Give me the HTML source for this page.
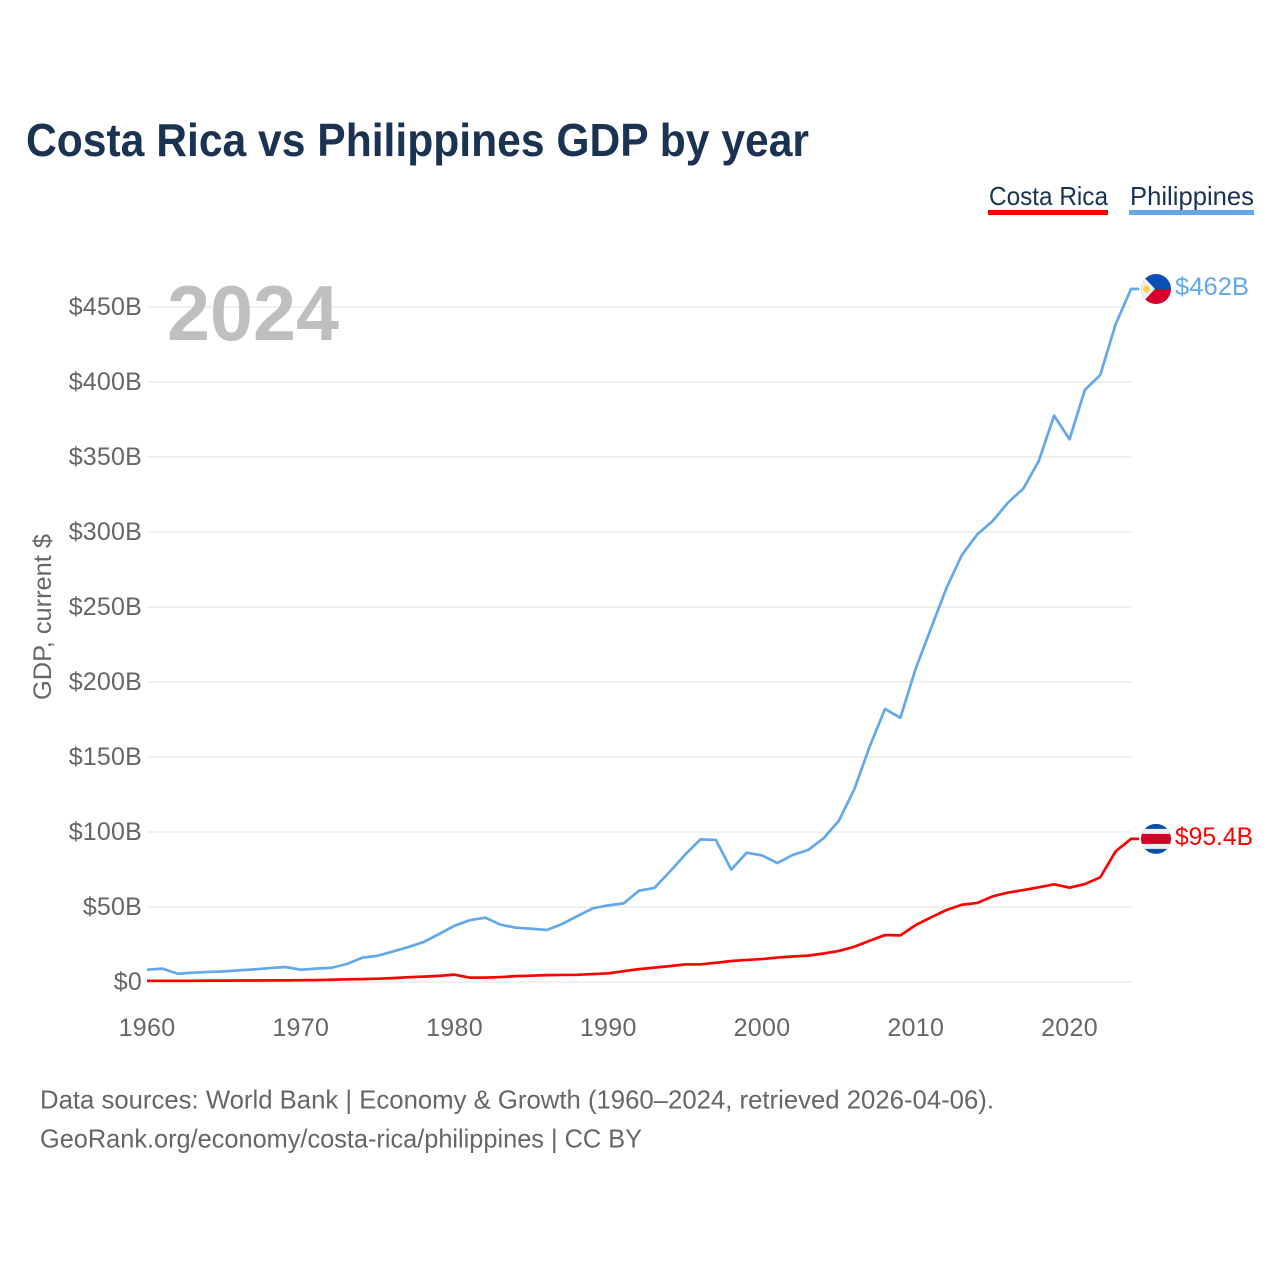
<!DOCTYPE html>
<html lang="en">
<head>
<meta charset="utf-8">
<title>Costa Rica vs Philippines GDP by year</title>
<style>
html,body{margin:0;padding:0;background:#fff;width:1280px;height:1280px;overflow:hidden}
svg{display:block}
text{font-family:"Liberation Sans",sans-serif}
</style>
</head>
<body>
<svg id="chart" xmlns="http://www.w3.org/2000/svg" width="1280" height="1280" viewBox="0 0 1280 1280">
  <rect width="1280" height="1280" fill="#fff"/>
  <text x="26" y="156" font-size="46" font-weight="700" fill="#1a3353" textLength="783" lengthAdjust="spacingAndGlyphs">Costa Rica vs Philippines GDP by year</text>

  <g>
    <g>
      <text x="989" y="205" font-size="26" fill="#1a3353" textLength="119" lengthAdjust="spacingAndGlyphs">Costa Rica</text>
      <rect x="988" y="210" width="120" height="5" fill="#ff0000"/>
    </g>
    <g>
      <text x="1130" y="205" font-size="26" fill="#1a3353" textLength="124" lengthAdjust="spacingAndGlyphs">Philippines</text>
      <rect x="1129" y="210" width="125" height="5" fill="#62a8ea"/>
    </g>
  </g>

  <g id="grid"></g>
  <g id="yTicks"></g>
  <g id="xTicks"></g>

  <text transform="translate(51,700) rotate(-90)" font-size="25" fill="#666" textLength="166" lengthAdjust="spacingAndGlyphs">GDP, current $</text>
  <text x="167" y="340" font-size="78" font-weight="700" fill="#bfbfbf" textLength="172" lengthAdjust="spacingAndGlyphs">2024</text>

  <g id="series"></g>

  <defs>
    <clipPath id="clipPh"><circle id="clipPhC" r="15" cx="1156" cy="289"/></clipPath>
    <clipPath id="clipCr"><circle id="clipCrC" r="15" cx="1156" cy="838"/></clipPath>
  </defs>
  <g id="flagPh" clip-path="url(#clipPh)"></g>
  <g id="flagCr" clip-path="url(#clipCr)"></g>
  <g id="endLabels"></g>

  <text x="40" y="1108.5" font-size="26" fill="#666" textLength="954" lengthAdjust="spacingAndGlyphs">Data sources: World Bank | Economy &amp; Growth (1960–2024, retrieved 2026-04-06).</text>
  <text x="40" y="1147.5" font-size="26" fill="#666" textLength="602" lengthAdjust="spacingAndGlyphs">GeoRank.org/economy/costa-rica/philippines | CC BY</text>
</svg>
<script>
const startYear = 1960;
const endYear = 2024;
const xTickYears = [1960, 1970, 1980, 1990, 2000, 2010, 2020];
const yTickValues = [0, 50, 100, 150, 200, 250, 300, 350, 400, 450];
const yTickLabels = ["$0", "$50B", "$100B", "$150B", "$200B", "$250B", "$300B", "$350B", "$400B", "$450B"];
const philippinesGdp = [8.2, 8.9, 5.5, 6.2, 6.7, 7.1, 7.8, 8.4, 9.3, 10, 8.2, 8.9, 9.5, 12, 16.2, 17.5, 20.4, 23.3, 26.7, 32, 37.5, 41.2, 42.9, 38.2, 36.2, 35.5, 34.7, 38.7, 44, 49.1, 51.1, 52.4, 60.9, 62.7, 73.5, 84.9, 95.1, 94.7, 74.9, 86.2, 84.4, 79.3, 84.7, 88, 95.8, 107.5, 128.4, 156.9, 182, 176.2, 209, 236, 262.7, 284.7, 298.4, 307.3, 319.6, 329, 347.3, 377.6, 361.8, 394.7, 404.7, 438.5, 462];
const costaRicaGdp = [0.8, 0.8, 0.8, 0.8, 0.9, 0.9, 1, 1, 1.1, 1.1, 1.2, 1.3, 1.5, 1.8, 1.9, 2.2, 2.6, 3.2, 3.6, 4.1, 4.9, 2.9, 2.9, 3.3, 3.9, 4.2, 4.6, 4.7, 4.8, 5.3, 5.8, 7.2, 8.6, 9.6, 10.6, 11.7, 11.8, 12.8, 14, 14.7, 15.3, 16.3, 17, 17.6, 19, 20.7, 23.5, 27.5, 31.3, 31.1, 38, 43.1, 48, 51.5, 52.7, 57.1, 59.6, 61.3, 63.1, 65.1, 62.9, 65.3, 69.8, 87.1, 95.4];
const philippinesEndLabel = "$462B";
const costaRicaEndLabel = "$95.4B";

const SVG_NS = "http://www.w3.org/2000/svg";
const plotLeft = 147, plotRight = 1131, plotZero = 982, pxPerBillion = 1.5;
function xScale(year) {
  return plotLeft + (year - startYear) * (plotRight - plotLeft) / (endYear - startYear);
}
function yScale(value) {
  return plotZero - value * pxPerBillion;
}
function make(tag, attrs, parent) {
  const el = document.createElementNS(SVG_NS, tag);
  for (const k in attrs) el.setAttribute(k, attrs[k]);
  parent.appendChild(el);
  return el;
}

const grid = document.getElementById("grid");
const yTicks = document.getElementById("yTicks");
yTickValues.forEach(function (v, i) {
  const line = make("line", {x1: plotLeft, x2: plotRight, y1: yScale(v), y2: yScale(v), stroke: "#ececec", "stroke-width": 1.5}, grid);
  
  
  const t = make("text", {x: 142, y: yScale(v) + 8, "text-anchor": "end", "font-size": 25, "letter-spacing": "0.2", fill: "#666"}, yTicks);
  
  
  t.textContent = yTickLabels[i];
});

const xTicks = document.getElementById("xTicks");
xTickYears.forEach(function (yr) {
  const t = make("text", {x: xScale(yr), y: 1036, "text-anchor": "middle", "font-size": 25, "letter-spacing": "0.3", fill: "#666"}, xTicks);
  
  
  t.textContent = String(yr);
});

function drawSeries(values, color) {
  const pts = values.map(function (v, i) { return xScale(startYear + i) + "," + yScale(v); });
  pts.push((plotRight + 8) + "," + yScale(values[values.length - 1]));
  return make("polyline", {points: pts.join(" "), fill: "none", stroke: color, "stroke-width": 2.7, "stroke-linejoin": "round"}, document.getElementById("series"));
}
const philippinesLine = drawSeries(philippinesGdp, "#62a8ea");


const costaRicaLine = drawSeries(costaRicaGdp, "#ff0000");



const phY = yScale(philippinesGdp[philippinesGdp.length - 1]);
const crY = yScale(costaRicaGdp[costaRicaGdp.length - 1]);
const flagX = 1156;

document.getElementById("clipPhC").setAttribute("cy", phY);
document.getElementById("clipCrC").setAttribute("cy", crY);

const flagPh = document.getElementById("flagPh");
make("rect", {x: flagX - 15, y: phY - 15, width: 30, height: 15, fill: "#0a50b4"}, flagPh);
make("rect", {x: flagX - 15, y: phY, width: 30, height: 15, fill: "#d6002f"}, flagPh);
make("polygon", {points: (flagX - 16) + "," + (phY - 16) + " " + (flagX - 1) + "," + phY + " " + (flagX - 16) + "," + (phY + 16), fill: "#f1f1f1"}, flagPh);
make("circle", {cx: flagX - 9.5, cy: phY, r: 3.6, fill: "#fcd34d"}, flagPh);

const flagCr = document.getElementById("flagCr");
make("rect", {x: flagX - 15, y: crY - 15, width: 30, height: 30, fill: "#0a50a8"}, flagCr);
make("rect", {x: flagX - 15, y: crY - 10, width: 30, height: 20, fill: "#eeeeee"}, flagCr);
make("rect", {x: flagX - 15, y: crY - 5, width: 30, height: 10, fill: "#d4002a"}, flagCr);

const endLabels = document.getElementById("endLabels");
const phLabel = make("text", {x: 1175, y: phY + 6, "font-size": 25, fill: "#62a8ea", textLength: 74, lengthAdjust: "spacingAndGlyphs"}, endLabels);


phLabel.textContent = philippinesEndLabel;
const crLabel = make("text", {x: 1175, y: crY + 6, "font-size": 25, fill: "#ff0000", textLength: 78, lengthAdjust: "spacingAndGlyphs"}, endLabels);


crLabel.textContent = costaRicaEndLabel;
</script>
</body>
</html>
